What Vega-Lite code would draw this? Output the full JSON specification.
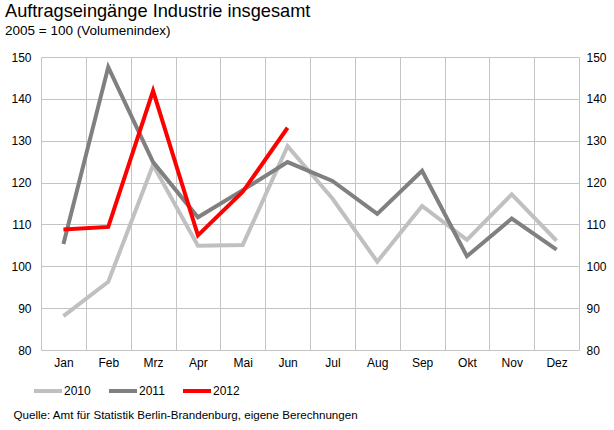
{
  "$schema": "https://vega.github.io/schema/vega-lite/v6.json",
  "width": 538,
  "height": 293,
  "autosize": {"type": "none"},
  "padding": {"left": 41, "top": 57, "right": 35, "bottom": 80},
  "background": "white",
  "title": {
    "text": "Auftragseingänge Industrie insgesamt",
    "subtitle": "2005 = 100 (Volumenindex)",
    "anchor": "start",
    "frame": "group",
    "dx": -36,
    "offset": 13,
    "font": "Liberation Sans",
    "fontSize": 18.2,
    "fontWeight": "normal",
    "color": "black",
    "subtitleFont": "Liberation Sans",
    "subtitleFontSize": 13.5,
    "subtitleColor": "black",
    "subtitlePadding": 2
  },
  "data": {
    "values": [
      {"month": "Jan", "year": "2010", "value": 88.1},
      {"month": "Feb", "year": "2010", "value": 96.3},
      {"month": "Mrz", "year": "2010", "value": 124.2},
      {"month": "Apr", "year": "2010", "value": 104.9},
      {"month": "Mai", "year": "2010", "value": 105.1},
      {"month": "Jun", "year": "2010", "value": 128.7},
      {"month": "Jul", "year": "2010", "value": 116.2},
      {"month": "Aug", "year": "2010", "value": 101.1},
      {"month": "Sep", "year": "2010", "value": 114.4},
      {"month": "Okt", "year": "2010", "value": 106.3},
      {"month": "Nov", "year": "2010", "value": 117.2},
      {"month": "Dez", "year": "2010", "value": 106.1},
      {"month": "Jan", "year": "2011", "value": 105.3},
      {"month": "Feb", "year": "2011", "value": 147.6},
      {"month": "Mrz", "year": "2011", "value": 124.9},
      {"month": "Apr", "year": "2011", "value": 111.7},
      {"month": "Mai", "year": "2011", "value": 118.2},
      {"month": "Jun", "year": "2011", "value": 124.9},
      {"month": "Jul", "year": "2011", "value": 120.4},
      {"month": "Aug", "year": "2011", "value": 112.5},
      {"month": "Sep", "year": "2011", "value": 122.8},
      {"month": "Okt", "year": "2011", "value": 102.4},
      {"month": "Nov", "year": "2011", "value": 111.4},
      {"month": "Dez", "year": "2011", "value": 104.0},
      {"month": "Jan", "year": "2012", "value": 108.8},
      {"month": "Feb", "year": "2012", "value": 109.4},
      {"month": "Mrz", "year": "2012", "value": 141.9},
      {"month": "Apr", "year": "2012", "value": 107.4},
      {"month": "Mai", "year": "2012", "value": 117.8},
      {"month": "Jun", "year": "2012", "value": 133.1}
    ]
  },
  "config": {
    "font": "Liberation Sans",
    "view": {"stroke": null},
    "axis": {
      "labelFont": "Liberation Sans",
      "labelFontSize": 12,
      "labelColor": "black",
      "gridColor": "#c4c4c4",
      "gridWidth": 1,
      "gridOpacity": 1,
      "domain": false,
      "ticks": false
    }
  },
  "layer": [
    {
      "mark": {"type": "line", "strokeWidth": 4},
      "encoding": {
        "x": {
          "field": "month",
          "type": "ordinal",
          "sort": ["Jan","Feb","Mrz","Apr","Mai","Jun","Jul","Aug","Sep","Okt","Nov","Dez"],
          "scale": {"type": "band", "paddingInner": 0, "paddingOuter": 0},
          "bandPosition": 0.5,
          "axis": {
            "tickBand": "extent",
            "grid": true,
            "labelAngle": 0,
            "labelPadding": 7,
            "title": "Quelle: Amt für Statistik Berlin-Brandenburg, eigene Berechnungen",
            "titleFont": "Liberation Sans",
            "titleFontSize": 11.6,
            "titleFontWeight": "normal",
            "titleColor": "black",
            "titleAnchor": "start",
            "titleAlign": "left",
            "titleBaseline": "middle",
            "titleX": -28,
            "titleY": 65
          }
        },
        "y": {
          "field": "value",
          "type": "quantitative",
          "scale": {"domain": [80, 150], "nice": false, "zero": false},
          "axis": {
            "orient": "left",
            "values": [80, 90, 100, 110, 120, 130, 140, 150],
            "grid": true,
            "title": null,
            "labelPadding": 10
          }
        },
        "color": {
          "field": "year",
          "type": "nominal",
          "scale": {"domain": ["2010", "2011", "2012"], "range": ["#c0c0c0", "#808080", "#ff0000"]},
          "legend": {
            "title": null,
            "orient": "none",
            "direction": "horizontal",
            "legendX": -9,
            "legendY": 318,
            "symbolType": "stroke",
            "symbolStrokeWidth": 4,
            "symbolSize": 784,
            "labelFont": "Liberation Sans",
            "labelFontSize": 12,
            "labelColor": "black",
            "labelOffset": 0,
            "columnPadding": 10
          }
        }
      }
    },
    {
      "mark": {"type": "line", "opacity": 0},
      "encoding": {
        "y": {
          "field": "value",
          "type": "quantitative",
          "scale": {"domain": [80, 150], "nice": false, "zero": false},
          "axis": {
            "orient": "right",
            "values": [80, 90, 100, 110, 120, 130, 140, 150],
            "grid": false,
            "title": null,
            "labelPadding": 7
          }
        }
      }
    }
  ],
  "resolve": {"scale": {"y": "independent"}}
}
